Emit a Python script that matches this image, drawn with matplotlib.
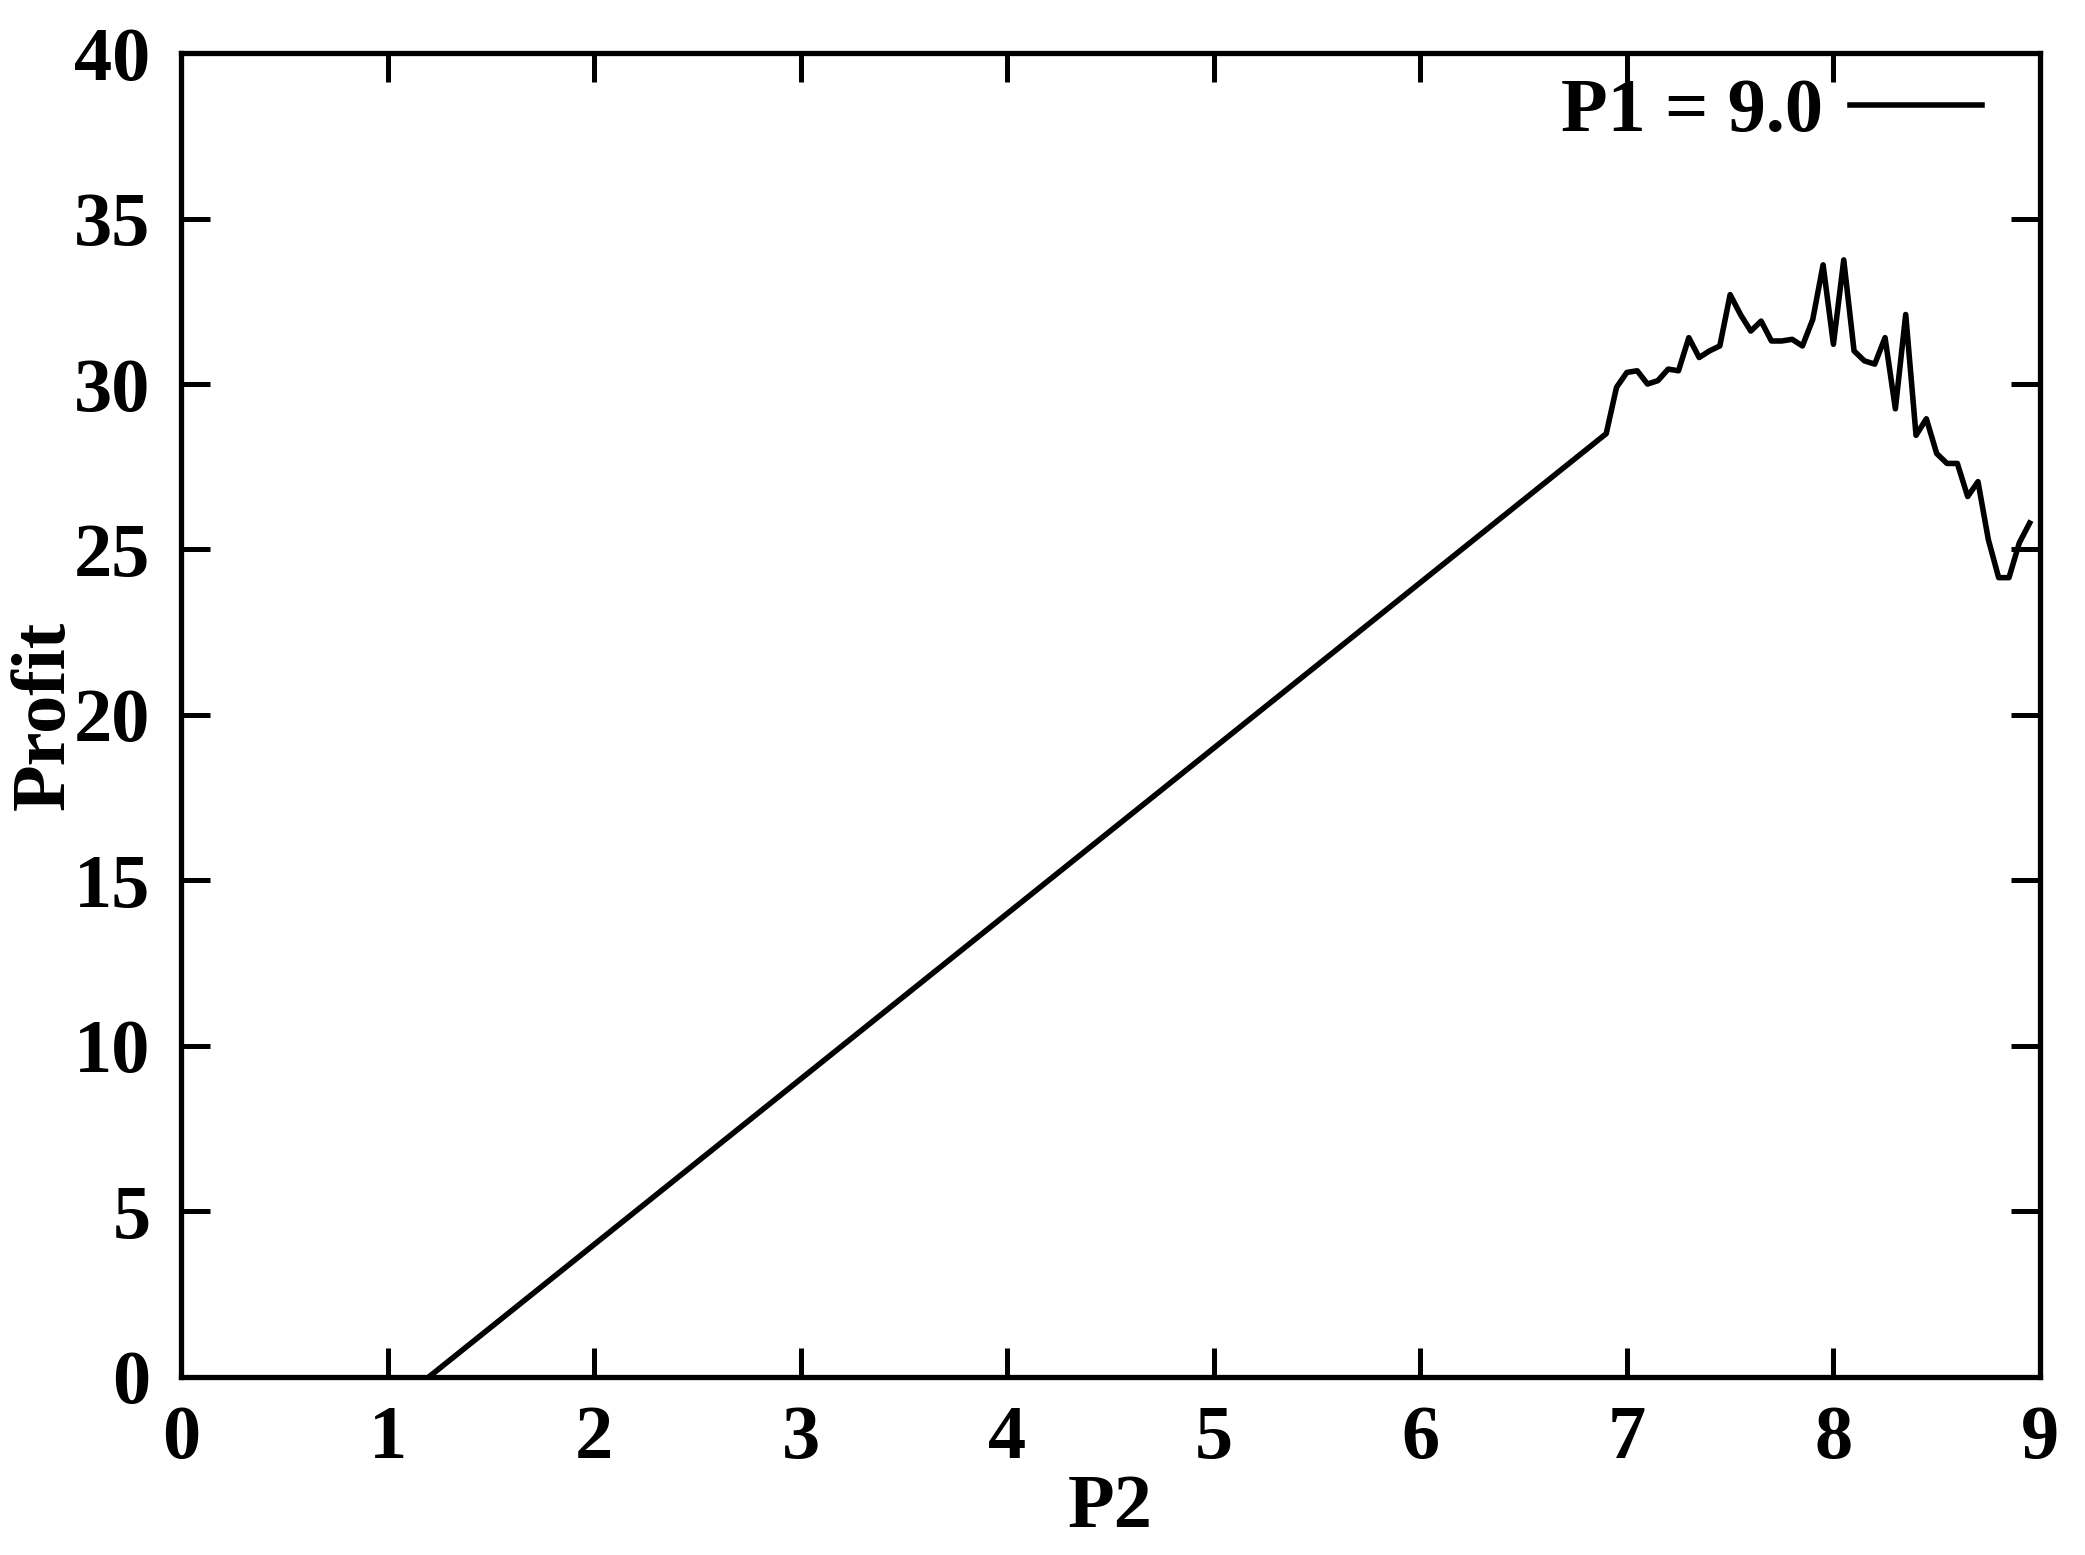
import matplotlib
matplotlib.use('Agg')
import matplotlib.pyplot as plt

#フォント設定（Times風の太字）
plt.rcParams['font.family'] = ['Liberation Serif', 'DejaVu Serif']
plt.rcParams['font.weight'] = 'bold'

#データ（P2, Profit）- 1.2〜6.9は直線、その後はノイズあり
p2 = [1.2, 6.9, 6.95, 7.0, 7.05, 7.1, 7.15, 7.2, 7.25, 7.3, 7.35, 7.4, 7.45,
      7.5, 7.55, 7.6, 7.65, 7.7, 7.75, 7.8, 7.85, 7.9, 7.95, 8.0, 8.05, 8.1,
      8.15, 8.2, 8.25, 8.3, 8.35, 8.4, 8.45, 8.5, 8.55, 8.6, 8.65, 8.7, 8.75,
      8.8, 8.85, 8.9, 8.95]
profit = [0.0, 28.5, 29.9, 30.35, 30.4, 30.0, 30.1, 30.45, 30.4, 31.4, 30.8,
          31.0, 31.15, 32.7, 32.1, 31.6, 31.9, 31.3, 31.3, 31.35, 31.15, 31.95,
          33.6, 31.2, 33.75, 31.0, 30.7, 30.6, 31.4, 29.25, 32.1, 28.45, 28.95,
          27.9, 27.6, 27.6, 26.6, 27.05, 25.3, 24.15, 24.15, 25.2, 25.8]

x_ticks = list(range(0, 10))
y_ticks = list(range(0, 45, 5))

fig = plt.figure(figsize=(20.85, 15.55), dpi=100)
ax = fig.add_axes([0.0868, 0.1145, 0.8916, 0.8514])

ax.plot(p2, profit, color='black', linewidth=4.0, label='P1 = 9.0')

#軸範囲
ax.set_xlim(0, 9)
ax.set_ylim(0, 40)
ax.set_xticks(x_ticks)
ax.set_yticks(y_ticks)

#目盛りは内向き、四辺すべて
ax.tick_params(direction='in', length=21, width=3.6, labelsize=55,
               top=True, right=True, pad=20)
ax.tick_params(axis='y', pad=22)
for s in ax.spines.values():
    s.set_linewidth(3.8)

ax.set_xlabel('P2', fontsize=55, fontweight='bold', labelpad=0)
ax.set_ylabel('Profit', fontsize=55, fontweight='bold', labelpad=-4)

#凡例（テキスト左、線右）
ax.legend(loc='center right', bbox_to_anchor=(0.969, 0.955), frameon=False,
          markerfirst=False, fontsize=55, handlelength=1.73,
          handletextpad=0.36, borderpad=0, borderaxespad=0)

fig.savefig('out.png', dpi=100)
